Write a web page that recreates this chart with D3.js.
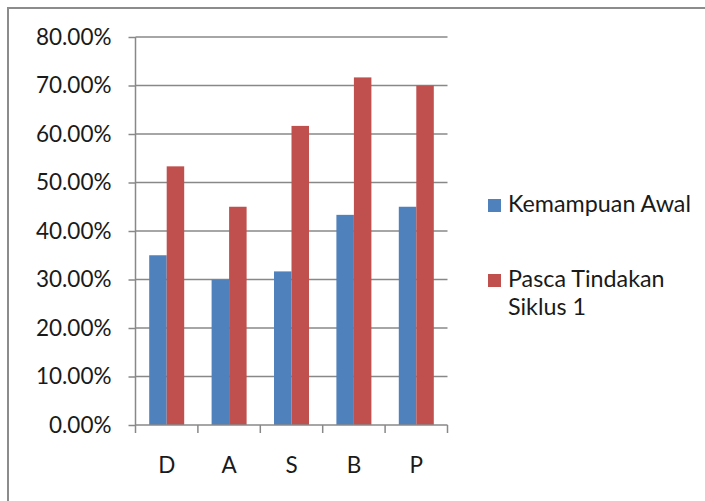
<!DOCTYPE html>
<html><head><meta charset="utf-8">
<script src="https://cdn.jsdelivr.net/npm/d3@7"></script>
<style>body{margin:0;background:#fff}svg{display:block}text{font-family:Lato,"Open Sans",sans-serif;fill:#1a1a1a}</style>
</head><body><svg id="c" width="705" height="501"></svg>
<script>
const categories = ["D","A","S","B","P"];
const seriesNames = ["Kemampuan Awal","Pasca Tindakan Siklus 1"];
const kemampuanAwal = [0.35, 0.30, 0.3167, 0.4333, 0.45];
const pascaTindakan = [0.5333, 0.45, 0.6167, 0.7167, 0.70];
const yTicks = [0,0.1,0.2,0.3,0.4,0.5,0.6,0.7,0.8];
const colors = ["#4f81bd","#c0504d"];

const svg = d3.select("#c");
svg.append("rect").attr("x",8).attr("y",8).attr("width",720).attr("height",520)
  .attr("fill","#fff").attr("stroke","#8c8c8c").attr("stroke-width",2);

const pLeft=135.5, pRight=447.5, pTop=37, pBottom=425;
const x = d3.scaleBand().domain(categories).range([pLeft,pRight]).paddingInner(0).paddingOuter(0);
const y = d3.scaleLinear().domain([0,0.8]).range([pBottom,pTop]);
const xs = d3.scaleBand().domain([0,1]).range([0,35]);

// gridlines
svg.append("g").selectAll("line").data(yTicks.filter(d=>d>0)).join("line")
  .attr("x1",pLeft).attr("x2",pRight).attr("y1",d=>y(d)).attr("y2",d=>y(d))
  .attr("stroke","#888").attr("stroke-width",1.5);

// bars
const data = categories.map((c,i)=>({c, v:[kemampuanAwal[i], pascaTindakan[i]]}));
const g = svg.append("g");
data.forEach(d=>{
  const x0 = x(d.c) + (x.bandwidth()-35)/2;
  g.selectAll(null).data(d.v).join("rect")
    .attr("x",(v,j)=>x0+xs(j)).attr("width",xs.bandwidth())
    .attr("y",v=>y(v)).attr("height",v=>pBottom-y(v))
    .attr("fill",(v,j)=>colors[j]);
});

// y axis
const ya = svg.append("g").attr("transform",`translate(${pLeft},0)`)
  .call(d3.axisLeft(y).tickValues(yTicks).tickFormat(d=>(d*100).toFixed(2)+"%").tickSize(7).tickPadding(17));
ya.select(".domain").attr("stroke","#888").attr("stroke-width",1.5).attr("d",`M0,${pTop}V${pBottom}`);
ya.selectAll(".tick line").attr("stroke","#888").attr("stroke-width",1.5);
ya.selectAll(".tick text").attr("font-size",22.5).attr("font-family","Lato").attr("fill","#1a1a1a");

// x axis
const xa = svg.append("g").attr("transform",`translate(0,${pBottom})`)
  .call(d3.axisBottom(x).tickSize(0).tickPadding(32));
xa.select(".domain").attr("stroke","#888").attr("stroke-width",1.5).attr("d",`M${pLeft},0H${pRight}`);
xa.selectAll(".tick text").attr("font-size",22.5).attr("font-family","Lato").attr("fill","#1a1a1a");
xa.selectAll("line.sep").data(d3.range(categories.length+1)).join("line").attr("class","sep")
  .attr("x1",i=>pLeft+i*x.step()).attr("x2",i=>pLeft+i*x.step()).attr("y1",0).attr("y2",8)
  .attr("stroke","#888").attr("stroke-width",1.5);

// legend
const leg = svg.append("g");
const legItems = [{name:["Kemampuan Awal"], y:199},{name:["Pasca Tindakan","Siklus 1"], y:274}];
legItems.forEach((it,i)=>{
  leg.append("rect").attr("x",488).attr("y",it.y).attr("width",13).attr("height",13).attr("fill",colors[i]);
  const t = leg.append("text").attr("x",508).attr("y",it.y+13).attr("font-size",23.3);
  it.name.forEach((s,k)=>t.append("tspan").attr("x",508).attr("dy",k?28:0).text(s));
});
</script></body></html>
